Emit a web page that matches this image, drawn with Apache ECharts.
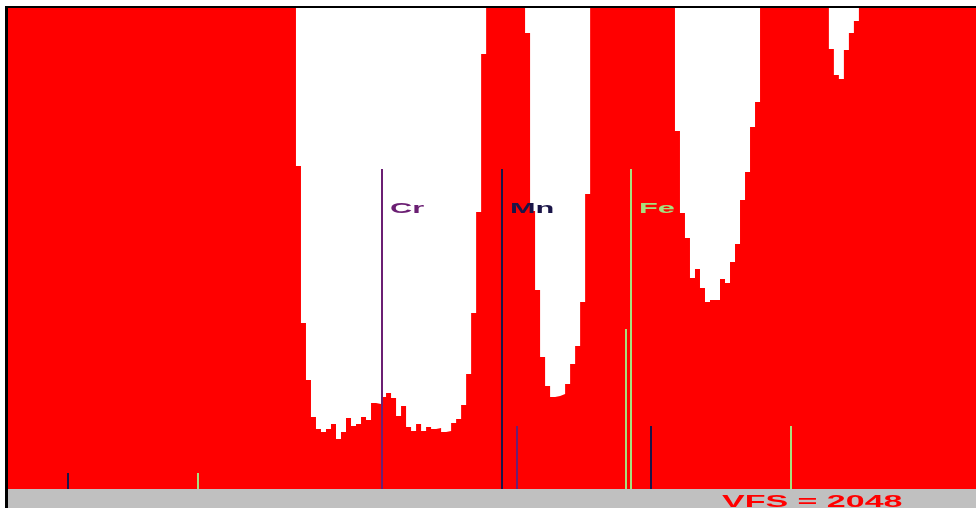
<!DOCTYPE html>
<html>
<head>
<meta charset="utf-8">
<script src="https://cdn.jsdelivr.net/npm/echarts@6/dist/echarts.min.js"></script>
<style>
html,body{margin:0;padding:0;background:#fff;}
#chart{width:976px;height:508px;}
</style>
</head>
<body>
<div id="chart"></div>
<script>
// Energy axis (keV) and vertical full scale
const energyMin = 3.93;
const energyMax = 7.779;
const fullScale = 2048;
const binWidth = 0.0199; // keV per channel

// Spectrum: channels below full scale (valleys)
const valley1Start = 5.075;
const valley1Counts = [1375,707,464,307,255,243,255,277,213,243,302,268,277,307,294,366,362,392,409,387,311,353,264,247,277,247,264,255,260,243,247,281,298,358,490,749,1179,1852];
const valley2Start = 5.986;
const valley2Counts = [1942,1184,847,562,439,392,396,404,447,532,609,796,1256];
const valley3Start = 6.582;
const valley3Counts = [1524,1175,1069,898,937,856,796,805,805,894,877,967,1043,1230,1350,1541,1648];
const valley4Start = 7.194;
const valley4Counts = [1873,1763,1746,1869,1942,1993];
// Off-scale (saturated) levels before, between and after the valleys (estimated)
const offScaleCounts = [2600, 5200, 4300, 3600, 2300];

// Element marker lines
const lineEnergies = [4.170, 4.687, 5.418, 5.893, 5.953, 6.387, 6.407, 6.486, 7.042];
const lineHeights  = [68, 68, 1362, 1362, 268, 681, 1362, 268, 268];
const lineElements = ['Mn','Fe','Cr','Mn','Cr','Fe','Fe','Mn','Fe'];

// Element labels
const labelNames = ['Cr','Mn','Fe'];
const labelEnergies = [5.418, 5.893, 6.407];
const labelCount = 1194;

const elementColors = {Cr:'#6b1f73', Mn:'#1a1548', Fe:'#a6e07e'};

// Build step data (left edge of each channel)
const valleys = [[valley1Start, valley1Counts],[valley2Start, valley2Counts],[valley3Start, valley3Counts],[valley4Start, valley4Counts]];
const spectrum = [[energyMin, offScaleCounts[0]]];
valleys.forEach(function(v, i){
  const start = v[0], counts = v[1];
  counts.forEach(function(c, j){ spectrum.push([start + j*binWidth, c]); });
  spectrum.push([start + counts.length*binWidth, offScaleCounts[i+1]]);
});
spectrum.push([energyMax, offScaleCounts[offScaleCounts.length-1]]);

const lineData = lineEnergies.map(function(e,i){ return [e, lineHeights[i], i]; });
const labelData = labelEnergies.map(function(e,i){ return [e, labelCount, i]; });

const chart = echarts.init(document.getElementById('chart'), null, {renderer:'canvas'});
chart.setOption({
  animation:false,
  backgroundColor:'#ffffff',
  grid:{left:8, top:8, width:968, height:481, containLabel:false},
  xAxis:{type:'value', min:energyMin, max:energyMax, show:false},
  yAxis:{type:'value', min:0, max:fullScale, show:false},
  series:[
    {
      type:'line',
      data:spectrum,
      step:'end',
      symbol:'none',
      clip:true,
      lineStyle:{width:0, opacity:0},
      areaStyle:{color:'#ff0000', opacity:1, origin:'start'},
      silent:true,
      z:2
    },
    {
      type:'custom',
      data:lineData,
      encode:{x:0, y:1},
      clip:true,
      silent:true,
      z:3,
      renderItem:function(params, api){
        const e = api.value(0);
        const b = api.coord([e, 0]);
        const t = api.coord([e, api.value(1)]);
        const x = Math.round(b[0]);
        return {type:'line', shape:{x1:x, y1:b[1], x2:x, y2:t[1]},
          style:{stroke:elementColors[lineElements[api.value(2)]], lineWidth:2}};
      }
    },
    {
      type:'custom',
      data:labelData,
      encode:{x:0, y:1},
      silent:true,
      z:4,
      renderItem:function(params, api){
        const p = api.coord([api.value(0), api.value(1)]);
        const name = labelNames[api.value(2)];
        return {type:'text', x:Math.round(p[0]) + 8, y:p[1], scaleX:2.05,
          style:{text:name, fill:elementColors[name], font:'bold 15px "Liberation Sans", Arial, sans-serif',
            align:'left', textAlign:'left', verticalAlign:'middle', textVerticalAlign:'middle'}};
      }
    }
  ],
  graphic:[
    {type:'rect', z:100, shape:{x:8, y:489, width:968, height:19}, style:{fill:'#c0c0c0'}},
    {type:'rect', z:101, shape:{x:5, y:6, width:3, height:502}, style:{fill:'#000000'}},
    {type:'rect', z:101, shape:{x:5, y:6, width:971, height:2}, style:{fill:'#000000'}},
    {type:'text', z:102, x:722, y:502, scaleX:2.0,
      style:{text:'VFS = 2048', fill:'#ff0000', font:'bold 17px "Liberation Sans", Arial, sans-serif',
        align:'left', textAlign:'left', verticalAlign:'middle', textVerticalAlign:'middle'}}
  ]
});
</script>
</body>
</html>
